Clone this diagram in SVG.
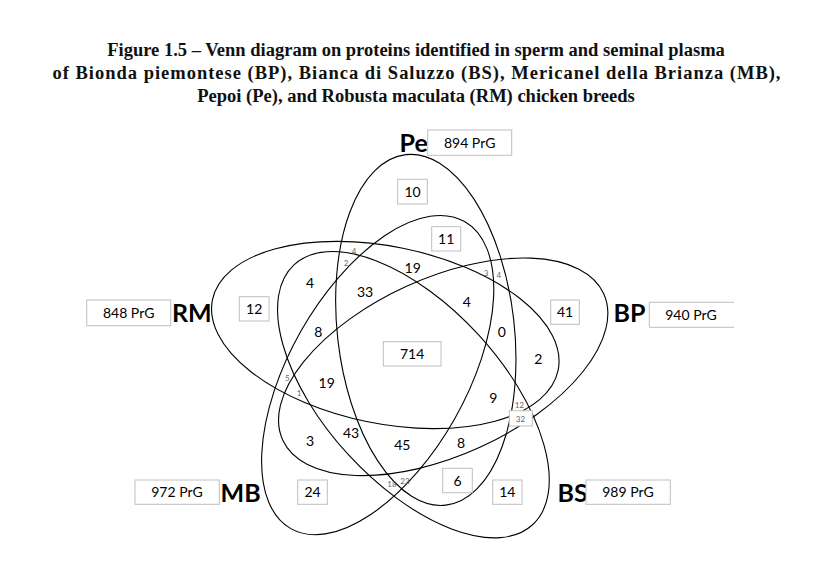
<svg xmlns="http://www.w3.org/2000/svg" width="832" height="561" viewBox="0 0 832 561">
<style>
.title{font-family:"Liberation Serif","Times New Roman",serif;font-weight:bold;font-size:18.5px;fill:#111;text-anchor:middle}
.ell{fill:none;stroke:#000;stroke-width:1.1}
.box{fill:#fff;stroke:#bfbfbf;stroke-width:1}
.num{font-family:Lato,"Open Sans",sans-serif;font-size:14px;fill:#000;text-anchor:middle}
.sm{font-family:Lato,"Open Sans",sans-serif;font-size:8px;fill:#666;text-anchor:middle}
.lab{font-family:Lato,"Open Sans",sans-serif;font-size:25px;font-weight:bold;fill:#000}
</style>
<rect width="832" height="561" fill="#fff"/>
<g id="title">
<text class="title" x="416" y="56">Figure 1.5 – Venn diagram on proteins identified in sperm and seminal plasma</text>
<text class="title" x="416.5" y="79" textLength="728" lengthAdjust="spacing">of Bionda piemontese (BP), Bianca di Saluzzo (BS), Mericanel della Brianza (MB),</text>
<text class="title" x="416" y="102">Pepoi (Pe), and Robusta maculata (RM) chicken breeds</text>
</g>
<g id="connectors">
<ellipse id="ell-Pe" class="ell" cx="0" cy="0" rx="176.4" ry="88.5" transform="translate(425.8 329.9) rotate(-96.5)"/>
<ellipse id="ell-BP" class="ell" cx="0" cy="0" rx="176.4" ry="88.5" transform="translate(443.2 366.8) rotate(-24.5)"/>
<ellipse id="ell-BS" class="ell" cx="0" cy="0" rx="176.4" ry="88.5" transform="translate(413.4 394.7) rotate(47.5)"/>
<ellipse id="ell-MB" class="ell" cx="0" cy="0" rx="176.4" ry="88.5" transform="translate(377.7 375.1) rotate(119.5)"/>
<ellipse id="ell-RM" class="ell" cx="0" cy="0" rx="176.4" ry="88.5" transform="translate(385.3 335) rotate(191.5)"/>
</g>
<g id="node-Pe">
<text class="lab" x="399.5" y="151.5">Pe</text>
<rect class="box" x="427.7" y="130" width="84" height="25.3"/>
<text class="num" x="469.7" y="147.5">894 PrG</text>
</g>
<g id="node-BP">
<text class="lab" x="613.5" y="321.5">BP</text>
<path class="box" d="M734 302.3H649.3V327.3H734" fill="none"/>
<text class="num" x="691" y="319.5">940 PrG</text>
</g>
<g id="node-RM">
<text class="lab" x="172" y="322">RM</text>
<rect class="box" x="86.7" y="300" width="84" height="25.7"/>
<text class="num" x="128.7" y="317.5">848 PrG</text>
</g>
<g id="node-MB">
<text class="lab" x="220.5" y="502">MB</text>
<rect class="box" x="135" y="480" width="84.3" height="24.3"/>
<text class="num" x="177" y="497">972 PrG</text>
</g>
<g id="node-BS">
<text class="lab" x="557.5" y="502">BS</text>
<rect class="box" x="586" y="480" width="84.3" height="24.3"/>
<text class="num" x="628" y="497">989 PrG</text>
</g>
<g id="regions">
<rect class="box" x="397.7" y="179.3" width="29.6" height="24.7"/><text class="num" x="412.5" y="196.7">10</text>
<rect class="box" x="431.7" y="226.7" width="29" height="24.3"/><text class="num" x="446.2" y="243.8">11</text>
<rect class="box" x="239.3" y="296.7" width="29.7" height="24.3"/><text class="num" x="254.2" y="313.8">12</text>
<rect class="box" x="550.7" y="300" width="28.6" height="24.3"/><text class="num" x="565" y="317.1">41</text>
<rect class="box" x="383.3" y="341.7" width="57.7" height="24.3"/><text class="num" x="412.2" y="358.8">714</text>
<rect class="box" x="442.7" y="468.3" width="29.6" height="24.4"/><text class="num" x="457.5" y="485.5">6</text>
<rect class="box" x="492.7" y="480" width="29.3" height="24.3"/><text class="num" x="507.3" y="497.1">14</text>
<rect class="box" x="297.7" y="480" width="29.6" height="24.3"/><text class="num" x="312.5" y="497.1">24</text>
<rect class="box" x="509.3" y="410.7" width="23" height="15.3"/>
<text class="num" x="310" y="287.7">4</text>
<text class="num" x="412.7" y="272.7">19</text>
<text class="num" x="365" y="296.7">33</text>
<text class="num" x="466.7" y="306.7">4</text>
<text class="num" x="501.7" y="336.7">0</text>
<text class="num" x="538.3" y="364">2</text>
<text class="num" x="318.3" y="336.7">8</text>
<text class="num" x="326.7" y="388.3">19</text>
<text class="num" x="493.3" y="402.7">9</text>
<text class="num" x="310" y="446">3</text>
<text class="num" x="351" y="438.3">43</text>
<text class="num" x="402.3" y="450">45</text>
<text class="num" x="461" y="447.7">8</text>
<text class="sm" x="354" y="254">4</text>
<text class="sm" x="346" y="266.3">2</text>
<text class="sm" x="486" y="275.7">3</text>
<text class="sm" x="498.7" y="278">4</text>
<text class="sm" x="287.3" y="380.7">5</text>
<text class="sm" x="299" y="396.3">1</text>
<text class="sm" x="519.3" y="408">12</text>
<text class="sm" x="520.5" y="422.3">32</text>
<text class="sm" x="392" y="487">18</text>
<text class="sm" x="405" y="483.7">22</text>
</g>
</svg>
